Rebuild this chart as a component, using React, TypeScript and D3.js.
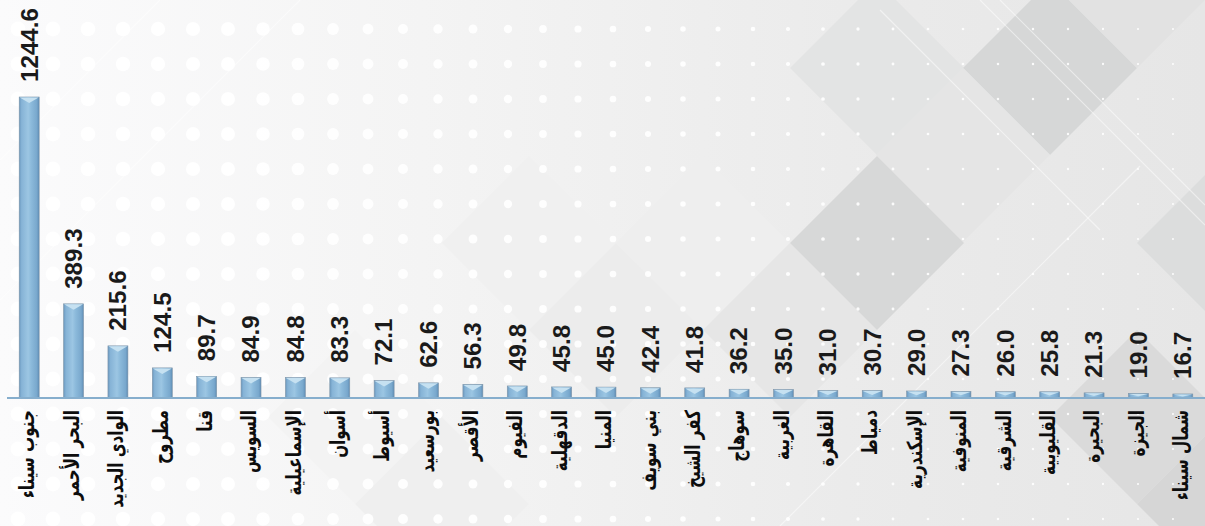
import React from "react";
import * as d3 from "d3";

const names: string[] = [
  "جنوب سيناء", "البحر الأحمر", "الوادي الجديد", "مطروح", "قنا", "السويس",
  "الإسماعيلية", "أسوان", "أسيوط", "بورسعيد", "الأقصر", "الفيوم", "الدقهلية",
  "المنيا", "بني سويف", "كفر الشيخ", "سوهاج", "الغربية", "القاهرة", "دمياط",
  "الإسكندرية", "المنوفية", "الشرقية", "القليوبية", "البحيرة", "الجيزة", "شمال سيناء",
];
const values: number[] = [
  1244.6, 389.3, 215.6, 124.5, 89.7, 84.9, 84.8, 83.3, 72.1, 62.6, 56.3, 49.8, 45.8,
  45.0, 42.4, 41.8, 36.2, 35.0, 31.0, 30.7, 29.0, 27.3, 26.0, 25.8, 21.3, 19.0, 16.7,
];

const W = 1205;
const H = 526;

// decorative background diamonds: [cx, cy, halfDiag, color]
const diamonds: [number, number, number, string][] = [
  [529, 243, 87, "#f0f0f0"],
  [616, 330, 87, "#ececec"],
  [703, 243, 87, "#eeeeee"],
  [790, 330, 87, "#e6e6e6"],
  [877, 68, 87, "#e3e4e4"],
  [1050, 68, 87, "#d6d7d7"],
  [963, 155, 87, "#e5e5e5"],
  [877, 243, 87, "#d7d8d8"],
  [1224, 243, 87, "#dcdddd"],
  [1137, 417, 87, "#dadada"],
  [1224, 504, 87, "#d6d6d6"],
  [355, 417, 87, "#f3f3f3"],
  [442, 504, 87, "#efefef"],
  [1137, -19, 87, "#e2e2e2"],
];

export default function App() {
  const x = d3
    .scaleBand<string>()
    .domain(names)
    .range([7, W])
    .paddingInner(0.55)
    .paddingOuter(0.275);
  const y = d3.scaleLinear().domain([0, 1244.6]).range([398, 97]);
  const bw = x.bandwidth();

  const dotR = d3
    .scaleLinear()
    .domain([0, 250, 400, 720, 900, 1205])
    .range([7.5, 7, 5, 2.5, 1.4, 1])
    .clamp(true);
  const dotXs = d3.range(0, 35).map((i) => 18 + 35 * i);
  const dotYs = d3.range(0, 15).map((j) => 29 + 35 * j);

  return (
    <div style={{ position: "absolute", left: 0, top: 0 }}>
      <svg width={W} height={H} style={{ display: "block" }}>
        <defs>
          <linearGradient id="bg" x1="0" x2="1" y1="0" y2="0">
            <stop offset="0" stopColor="#fbfbfc" />
            <stop offset="0.35" stopColor="#f4f4f4" />
            <stop offset="0.7" stopColor="#ebebeb" />
            <stop offset="1" stopColor="#e6e6e6" />
          </linearGradient>
          <linearGradient id="barGrad" x1="0" x2="1" y1="0" y2="0">
            <stop offset="0" stopColor="#6a98bf" />
            <stop offset="0.12" stopColor="#86b3d6" />
            <stop offset="0.45" stopColor="#9cc6e3" />
            <stop offset="0.6" stopColor="#8cbadb" />
            <stop offset="0.88" stopColor="#79a8cd" />
            <stop offset="1" stopColor="#5f8db5" />
          </linearGradient>
        </defs>
        <rect x={0} y={0} width={W} height={H} fill="url(#bg)" />
        {diamonds.map(([cx, cy, r, c], i) => (
          <polygon
            key={"d" + i}
            points={`${cx - r},${cy} ${cx},${cy - r} ${cx + r},${cy} ${cx},${cy + r}`}
            fill={c}
          />
        ))}
        <g stroke="#ffffff" strokeOpacity={0.5} strokeWidth={1.2}>
          <line x1={0} y1={300} x2={300} y2={0} />
          <line x1={0} y1={160} x2={160} y2={0} />
          <line x1={780} y1={526} x2={1140} y2={166} />
          <line x1={1000} y1={0} x2={1205} y2={205} />
          <line x1={980} y1={0} x2={1205} y2={225} />
          <line x1={880} y1={10} x2={1100} y2={230} />
        </g>
        <g fill="#ffffff" fillOpacity={0.9}>
          {dotYs.map((dy) =>
            dotXs.map((dx) => (
              <circle key={dx + "-" + dy} cx={dx} cy={dy} r={dotR(dx)} />
            ))
          )}
        </g>
        {names.map((n, i) => {
          const bx = x(n)!;
          const by = y(values[i]);
          const h = y(0) - by;
          const capH = Math.min(6, h * 0.6);
          return (
            <g key={"b" + i}>
              <rect x={bx} y={by} width={bw} height={h} fill="url(#barGrad)" stroke="#7f95a8" strokeWidth={0.6} />
              <polygon
                points={`${bx + 0.5},${by + 0.5} ${bx + bw - 0.5},${by + 0.5} ${bx + bw / 2},${by + capH}`}
                fill="#c6e1f1"
              />
            </g>
          );
        })}
        <line x1={7} x2={W} y1={398} y2={398} stroke="#86aecd" strokeWidth={2.2} />
        {names.map((n, i) => {
          const cx = x(n)! + bw / 2;
          const by = y(values[i]);
          return (
            <text
              key={"v" + i}
              transform={`translate(${cx},${by - 15}) rotate(-90) scale(1.1,1.05)`}
              dy="0.36em"
              fontFamily="'Liberation Sans', Arial, sans-serif"
              fontWeight="bold"
              fontSize={22}
              fill="#1a1a1a"
            >
              {values[i].toFixed(1)}
            </text>
          );
        })}
        {names.map((n, i) => {
          const cx = x(n)! + bw / 2;
          return (
            <text
              key={"l" + i}
              transform={`translate(${cx},${410}) rotate(-90) scale(0.95,1.3)`}
              dy="0.25em"
              textAnchor="end"
              fontFamily="'DejaVu Sans', sans-serif"
              fontWeight="bold"
              fontSize={16}
              fill="#0d0d0d"
            >
              {n}
            </text>
          );
        })}
      </svg>
    </div>
  );
}
